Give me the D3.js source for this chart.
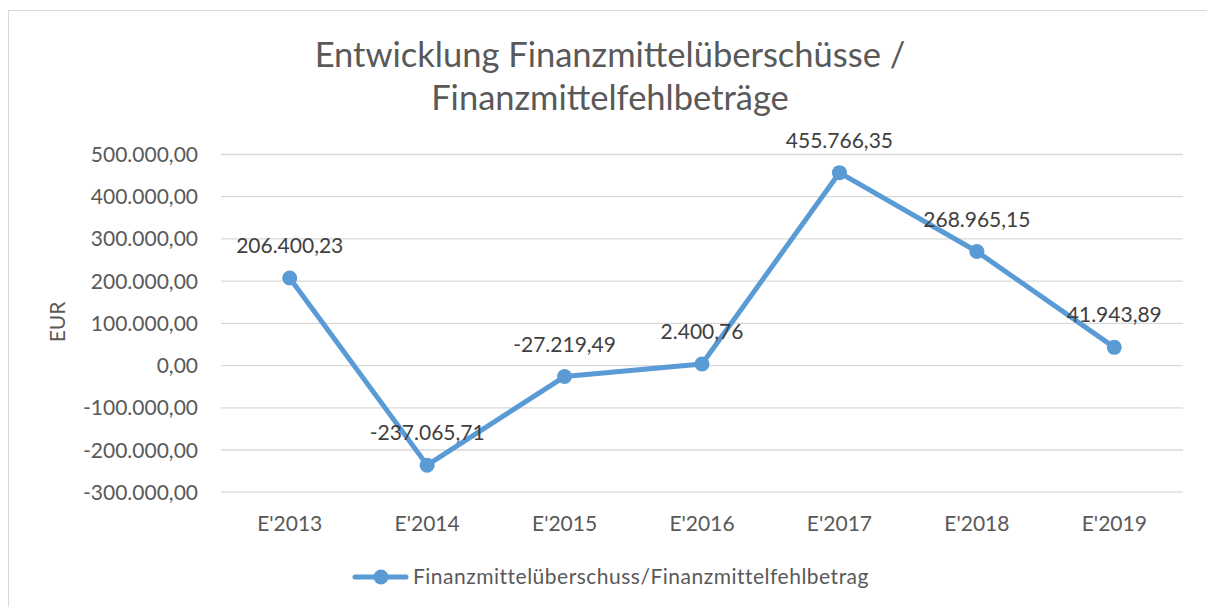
<!DOCTYPE html>
<html>
<head>
<meta charset="utf-8">
<script src="https://cdn.jsdelivr.net/npm/d3@7"></script>
<style>
  body { margin: 0; background: #fff; }
  svg { font-family: Lato, "Open Sans", sans-serif; }
</style>
</head>
<body>
<script>
// chart data
var categories = ["E'2013", "E'2014", "E'2015", "E'2016", "E'2017", "E'2018", "E'2019"];
var values = [206400.23, -237065.71, -27219.49, 2400.76, 455766.35, 268965.15, 41943.89];
var yTicks = [-300000, -200000, -100000, 0, 100000, 200000, 300000, 400000, 500000];
var titleLines = ["Entwicklung Finanzmittelüberschüsse /", "Finanzmittelfehlbeträge"];
var seriesName = "Finanzmittelüberschuss/Finanzmittelfehlbetrag";
var yTitle = "EUR";

var w = 1207, h = 607;
var blue = "#5b9bd5";

// german number format, e.g. 500.000,00
var de = d3.formatLocale({decimal: ",", thousands: ".", grouping: [3], currency: ["", " €"], minus: "-"});
var fmt = de.format(",.2f");

var svg = d3.select("body").append("svg")
	.attr("width", w)
	.attr("height", h);

// outer chart border
svg.append("rect")
	.attr("x", 8.5).attr("y", 10.5)
	.attr("width", 1210).attr("height", 610)
	.attr("fill", "#fff")
	.attr("stroke", "#d9d9d9");

// scales
var x = d3.scaleBand().domain(categories).range([221, 1183]);
var y = d3.scaleLinear().domain([-300000, 500000]).range([491.7, 154]);
var cx = function(d){ return x(d) + x.bandwidth() / 2; };

// title
svg.append("text")
	.attr("text-anchor", "middle")
	.attr("fill", "#595959")
	.style("font-size", "34.5px")
	.selectAll("tspan")
	.data(titleLines)
	.enter().append("tspan")
	.attr("x", 610)
	.attr("y", function(d, i){ return 67 + i * 43; })
	.text(function(d){ return d; });

// y axis + gridlines
var yAxis = svg.append("g")
	.attr("transform", "translate(221,0)")
	.call(d3.axisLeft(y).tickValues(yTicks).tickFormat(fmt).tickSize(-(1183 - 221)).tickPadding(23));
yAxis.select(".domain").remove();
yAxis.selectAll("line").attr("stroke", "#d9d9d9").attr("stroke-width", 1.3);
yAxis.selectAll("text")
	.attr("fill", "#595959")
	.attr("dy", "0.36em")
	.style("font-size", "21px")
	.style("font-family", "Lato, sans-serif");

// x axis labels
var xAxis = svg.append("g")
	.attr("transform", "translate(0," + y(-300000) + ")")
	.call(d3.axisBottom(x).tickSize(0));
xAxis.select(".domain").remove();
xAxis.selectAll("text")
	.attr("y", 39)
	.attr("dy", null)
	.attr("fill", "#595959")
	.style("font-size", "21px")
	.style("font-family", "Lato, sans-serif");

// axis title
svg.append("text")
	.attr("transform", "translate(65,322) rotate(-90)")
	.attr("text-anchor", "middle")
	.attr("fill", "#595959")
	.style("font-size", "21px")
	.text(yTitle);

// the line
var line = d3.line()
	.x(function(d, i){ return cx(categories[i]); })
	.y(function(d){ return y(d); });

svg.append("path")
	.datum(values)
	.attr("d", line)
	.attr("fill", "none")
	.attr("stroke", blue)
	.attr("stroke-width", 5)
	.attr("stroke-linejoin", "round")
	.attr("stroke-linecap", "round");

svg.selectAll(".dot")
	.data(values)
	.enter().append("circle")
	.attr("class", "dot")
	.attr("cx", function(d, i){ return cx(categories[i]); })
	.attr("cy", function(d){ return y(d); })
	.attr("r", 7.5)
	.attr("fill", blue);

// data labels above points
svg.selectAll(".lbl")
	.data(values)
	.enter().append("text")
	.attr("class", "lbl")
	.attr("x", function(d, i){ return cx(categories[i]); })
	.attr("y", function(d){ return y(d) - 25; })
	.attr("text-anchor", "middle")
	.attr("fill", "#404040")
	.style("font-size", "21px")
	.text(function(d){ return fmt(d); });

// legend
var lg = svg.append("g");
lg.append("line")
	.attr("x1", 355).attr("x2", 406)
	.attr("y1", 577).attr("y2", 577)
	.attr("stroke", blue).attr("stroke-width", 5)
	.attr("stroke-linecap", "round");
lg.append("circle")
	.attr("cx", 381).attr("cy", 577).attr("r", 7.5)
	.attr("fill", blue);
lg.append("text")
	.attr("x", 413).attr("y", 584)
	.attr("fill", "#595959")
	.style("font-size", "21px")
	.style("letter-spacing", "0.5px")
	.text(seriesName);
</script>
</body>
</html>
